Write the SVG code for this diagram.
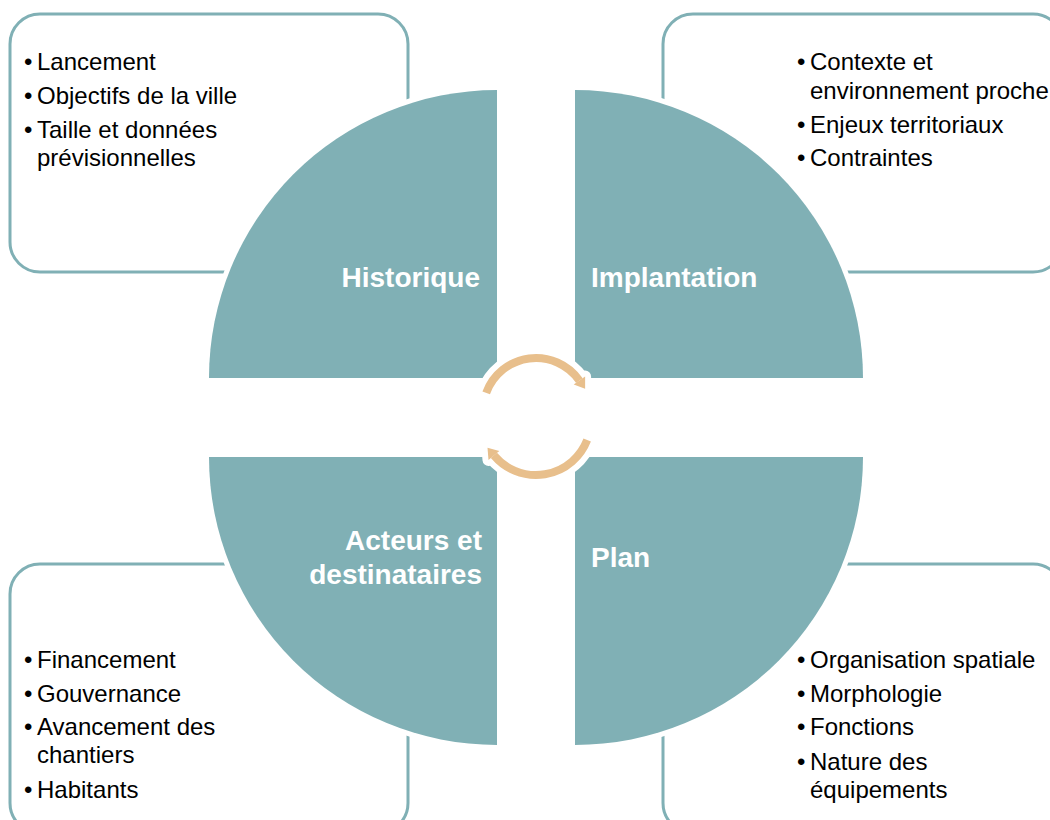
<svg xmlns="http://www.w3.org/2000/svg" width="1050" height="820" viewBox="0 0 1050 820">
<style>
.box{fill:#fff;stroke:#80B0B5;stroke-width:3}
.q{fill:#80B0B5;stroke:#fff;stroke-width:10;paint-order:stroke fill}
.t{font-family:"Liberation Sans",Arial,sans-serif;font-size:24px;fill:#000}
.h{font-family:"Liberation Sans",Arial,sans-serif;font-size:28px;font-weight:bold;fill:#fff}
.halo{fill:none;stroke:#fff;stroke-width:20}
.arc{fill:none;stroke:#E8BF8C;stroke-width:8}
.hd{fill:#E8BF8C}
.hdw{fill:#fff;stroke:#fff;stroke-width:12;stroke-linejoin:round}
</style>
<rect width="1050" height="820" fill="#fff"/>
<g id="box-historique">
<rect class="box" x="10" y="14" width="398" height="258" rx="30"/>
<text class="t" x="24" y="70">•</text><text class="t" x="37" y="70">Lancement</text>
<text class="t" x="24" y="104">•</text><text class="t" x="37" y="104">Objectifs de la ville</text>
<text class="t" x="24" y="138">•</text><text class="t" x="37" y="138">Taille et données</text>
<text class="t" x="37" y="166">prévisionnelles</text>
</g>
<g id="box-implantation">
<rect class="box" x="663" y="14" width="400" height="258" rx="30"/>
<text class="t" x="797" y="70">•</text><text class="t" x="810" y="70">Contexte et</text>
<text class="t" x="810" y="99">environnement proche</text>
<text class="t" x="797" y="133">•</text><text class="t" x="810" y="133">Enjeux territoriaux</text>
<text class="t" x="797" y="166">•</text><text class="t" x="810" y="166">Contraintes</text>
</g>
<g id="box-acteurs">
<rect class="box" x="10" y="564" width="398" height="269" rx="30"/>
<text class="t" x="24" y="668">•</text><text class="t" x="37" y="668">Financement</text>
<text class="t" x="24" y="702">•</text><text class="t" x="37" y="702">Gouvernance</text>
<text class="t" x="24" y="735">•</text><text class="t" x="37" y="735">Avancement des</text>
<text class="t" x="37" y="763">chantiers</text>
<text class="t" x="24" y="798">•</text><text class="t" x="37" y="798">Habitants</text>
</g>
<g id="box-plan">
<rect class="box" x="663" y="564" width="400" height="269" rx="30"/>
<text class="t" x="797" y="668">•</text><text class="t" x="810" y="668">Organisation spatiale</text>
<text class="t" x="797" y="702">•</text><text class="t" x="810" y="702">Morphologie</text>
<text class="t" x="797" y="735">•</text><text class="t" x="810" y="735">Fonctions</text>
<text class="t" x="797" y="770">•</text><text class="t" x="810" y="770">Nature des</text>
<text class="t" x="810" y="798">équipements</text>
</g>
<g id="historique">
<path class="q" d="M497,378 L209,378 A288,288 0 0 1 497,90 Z"/>
<text class="h" x="480" y="287" text-anchor="end">Historique</text>
</g>
<g id="implantation">
<path class="q" d="M575,378 L575,90 A288,288 0 0 1 863,378 Z"/>
<text class="h" x="591" y="287">Implantation</text>
</g>
<g id="acteurs">
<path class="q" d="M497,457 L497,745 A288,288 0 0 1 209,457 Z"/>
<text class="h" x="482" y="550" text-anchor="end">Acteurs et</text>
<text class="h" x="482" y="584" text-anchor="end">destinataires</text>
</g>
<g id="plan">
<path class="q" d="M575,457 L863,457 A288,288 0 0 1 575,745 Z"/>
<text class="h" x="591" y="567">Plan</text>
</g>
<g id="connectors">
<path class="halo" d="M486.2,392.9 A53,53 0 0 1 579.4,380.6"/>
<polygon class="hdw" points="585.1,376.6 573.7,384.6 585.1,388.8"/>
<path class="halo" d="M587.2,440 A55,55 0 0 1 493.9,455.4"/>
<polygon class="hdw" points="488.5,459.9 499.3,450.9 487.5,447.7"/>
<path class="arc" d="M486.2,392.9 A53,53 0 0 1 579.4,380.6"/>
<polygon class="hd" points="585.1,376.6 573.7,384.6 585.1,388.8"/>
<path class="arc" d="M587.2,440 A55,55 0 0 1 493.9,455.4"/>
<polygon class="hd" points="488.5,459.9 499.3,450.9 487.5,447.7"/>
</g>
</svg>
